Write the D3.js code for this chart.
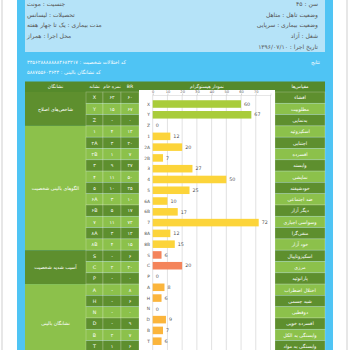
<!DOCTYPE html>
<html lang="fa">
<head>
<meta charset="utf-8" />
<title>MCMI profile</title>
<script src="https://d3js.org/d3.v7.min.js"></script>
<style>
  body { margin: 0; background: #fff; }
  text { font-family: "DejaVu Sans", sans-serif; }
</style>
</head>
<body>
<svg width="350" height="350"></svg>
<script>
// patient info
const infoRight = ["سن : ۴۵", "وضعیت تاهل : متاهل", "وضعیت بیماری : سرپایی", "شغل : آزاد", "تاریخ اجرا : ۱۳۹۶/۰۷/۱۰"];
const infoLeft = ["جنسیت : مونث", "تحصیلات : لیسانس", "مدت بیماری : یک تا چهار هفته", "محل اجرا : همراز"];
const codeLines = ["کد اختلالات شخصیت : ۳۴۵۶۲۸۸۸۸۸۸۸۴۶۸۳۲۱۷", "کد نشانگان بالینی : ۵۸۸۷۵۵۶۰۳۶۴۴"];
const bandTitle = "نتایج";
const headers = ["نشانگان", "نشانه", "نمره خام", "BR", "نمودار هیستوگرام", "مقیاس‌ها"];

// scales
const codes = ["X", "Y", "Z", "1", "2A", "2B", "3", "4", "5", "6A", "6B", "7", "8A", "8B", "S", "C", "P", "A", "H", "N", "D", "B", "T"];
const scaleNames = ["افشاء", "مطلوبیت", "بدنمایی", "اسکیزوئید", "اجتنابی", "افسرده", "وابسته", "نمایشی", "خودشیفته", "ضد اجتماعی", "دیگر آزار", "وسواسی اجباری", "منفی‌گرا", "خود آزار", "اسکیزوتایپال", "مرزی", "پارانوئید", "اختلال اضطراب", "شبه جسمی", "دوقطبی", "افسرده خویی", "وابستگی به الکل", "وابستگی به مواد"];
const rawScores = ["۶۲", "۱۵", "-", "۴", "۳", "۱", "۹", "۱۱", "۱۰", "۳", "۵", "۱۱", "۳", "۴", "-", "۲", "-", "-", "-", "-", "-", "۲", "۱"];
const brScores = [60, 67, 0, 12, 20, 7, 27, 50, 25, 10, 17, 72, 12, 15, 6, 20, 0, 8, 6, 0, 9, 7, 6];

// groups (last one runs past the bottom of the page)
const groupNames = ["شاخص‌های اصلاح", "الگوهای بالینی شخصیت", "آسیب شدید شخصیت", "نشانگان بالینی"];
const groupSizes = [3, 11, 3, 7];
const groupColors = ["#a9cc3a", "#fcd43a", "#f4845a", "#fbb53c"];

const axisTicks = [0, 10, 20, 30, 40, 50, 60, 70];

const svg = d3.select("svg");
const W = 350, H = 350;
const fa = (s) => String(s).replace(/[0-9]/g, (c) => "۰۱۲۳۴۵۶۷۸۹"[c]);

const dark = "#5e8f2e", light = "#8cc14b", head = "#558a2b";

// page
svg.append("rect").attr("x", 2).attr("y", -2).attr("width", 345).attr("height", H + 4)
  .attr("fill", "#fff").attr("stroke", "#cfcfcf");
svg.append("rect").attr("x", 17).attr("y", 0).attr("width", 316).attr("height", H).attr("fill", "#4fc4f4");
svg.append("rect").attr("x", 25).attr("y", 0).attr("width", 300).attr("height", 52).attr("fill", "#b5e3f8");

svg.append("g").selectAll("text").data(infoRight).join("text")
  .attr("x", 318).attr("y", (d, i) => 6 + i * 10.7)
  .attr("text-anchor", "end").attr("font-size", 6).attr("fill", "#555").text((d) => d);
svg.append("g").selectAll("text").data(infoLeft).join("text")
  .attr("x", 27).attr("y", (d, i) => 6 + i * 10.7)
  .attr("text-anchor", "start").attr("font-size", 6).attr("fill", "#555").text((d) => d);

svg.append("g").selectAll("text").data(codeLines).join("text")
  .attr("x", 27).attr("y", (d, i) => 64 + i * 10)
  .attr("font-size", 5).attr("fill", "#fff").text((d) => d);
svg.append("text").attr("x", 320).attr("y", 64).attr("text-anchor", "end")
  .attr("font-size", 5).attr("fill", "#fff").text(bandTitle);

// table geometry
const colX = [25, 86, 103, 121, 139, 275, 325];
const top0 = 81.5, rowTop = 92, rowH = 11.3;
const rowY = (i) => rowTop + i * rowH;

// header row
svg.append("rect").attr("x", 25).attr("y", top0).attr("width", 300).attr("height", rowTop - top0).attr("fill", head);

// group cells
let start = 0;
const groups = groupNames.map((n, i) => {
  const g = { name: n, start, size: groupSizes[i], color: groupColors[i], idx: i };
  start += groupSizes[i];
  return g;
});
svg.append("g").selectAll("rect").data(groups).join("rect")
  .attr("x", colX[0]).attr("y", (d) => rowY(d.start))
  .attr("width", colX[1] - colX[0]).attr("height", (d) => d.size * rowH)
  .attr("fill", (d) => (d.idx % 2 === 0 ? dark : light));
svg.append("g").selectAll("text").data(groups).join("text")
  .attr("x", (colX[0] + colX[1]) / 2).attr("y", (d) => rowY(d.start) + (d.size * rowH) / 2 + 1.8)
  .attr("text-anchor", "middle").attr("font-size", 4.8).attr("fill", "#fff").text((d) => d.name);

// numeric cells and scale names
const rows = codes.map((c, i) => ({ code: c, name: scaleNames[i], raw: rawScores[i], br: brScores[i], i }));
const cellCols = [
  { x0: colX[1], x1: colX[2], val: (d) => fa(d.code) },
  { x0: colX[2], x1: colX[3], val: (d) => d.raw },
  { x0: colX[3], x1: colX[4], val: (d) => fa(d.br) },
  { x0: colX[5], x1: colX[6], val: (d) => d.name }
];
cellCols.forEach((col) => {
  const g = svg.append("g");
  g.selectAll("rect").data(rows).join("rect")
    .attr("x", col.x0).attr("y", (d) => rowY(d.i))
    .attr("width", col.x1 - col.x0).attr("height", rowH)
    .attr("fill", (d) => (d.i % 2 === 0 ? dark : light))
    .attr("stroke", "rgba(255,255,255,0.3)").attr("stroke-width", 0.7);
  g.selectAll("text").data(rows).join("text")
    .attr("x", (col.x0 + col.x1) / 2).attr("y", (d) => rowY(d.i) + rowH / 2 + 1.8)
    .attr("text-anchor", "middle").attr("font-size", 4.8).attr("fill", "#fff")
    .text(col.val);
});

// chart area
svg.append("rect").attr("x", colX[4]).attr("y", 90).attr("width", colX[5] - colX[4]).attr("height", H - 90).attr("fill", "#fff");

svg.append("g").selectAll("text").data(headers).join("text")
  .attr("x", (d, i) => (colX[i] + colX[i + 1]) / 2)
  .attr("y", top0 + 6.3).attr("text-anchor", "middle")
  .attr("font-size", 4.6).attr("fill", "#fff").text((d) => d);

const x = d3.scaleLinear().domain([0, 80]).range([152.7, 270.5]);
const y = d3.scaleBand().domain(codes).range([97, 348.2]).paddingInner(0.3).paddingOuter(0.3);

svg.append("g").selectAll("line").data(d3.range(0, 81, 10)).join("line")
  .attr("x1", (d) => x(d)).attr("x2", (d) => x(d))
  .attr("y1", 95).attr("y2", H).attr("stroke", "#d4d4d4").attr("stroke-width", 0.7);

const axis = svg.append("g").attr("transform", "translate(0,95)")
  .call(d3.axisTop(x).tickValues(axisTicks).tickSize(1.5).tickFormat(d3.format("d")));
axis.select(".domain").attr("stroke", "#ccc").attr("stroke-width", 0.5);
axis.selectAll(".tick line").attr("stroke", "#aaa").attr("stroke-width", 0.5);
axis.selectAll(".tick text").attr("font-size", 3.6).attr("fill", "#666").attr("dy", 0).attr("y", -1.8)
  .attr("font-family", "DejaVu Sans");

const colorOf = (i) => {
  const g = groups.find((g) => i >= g.start && i < g.start + g.size);
  return g.color;
};

svg.append("g").selectAll("rect").data(rows).join("rect")
  .attr("x", x(0)).attr("y", (d) => y(d.code))
  .attr("width", (d) => x(d.br) - x(0)).attr("height", y.bandwidth())
  .attr("fill", (d) => colorOf(d.i));

svg.append("g").selectAll("text").data(rows).join("text")
  .attr("x", 150).attr("y", (d) => y(d.code) + y.bandwidth() / 2 + 1.6)
  .attr("text-anchor", "end").attr("font-size", 4.4).attr("fill", "#555").text((d) => d.code);

svg.append("g").selectAll("text").data(rows).join("text")
  .attr("x", (d) => x(d.br) + 3).attr("y", (d) => y(d.code) + y.bandwidth() / 2 + 1.7)
  .attr("font-size", 4.8).attr("fill", "#555").text((d) => d.br);
</script>
</body>
</html>
